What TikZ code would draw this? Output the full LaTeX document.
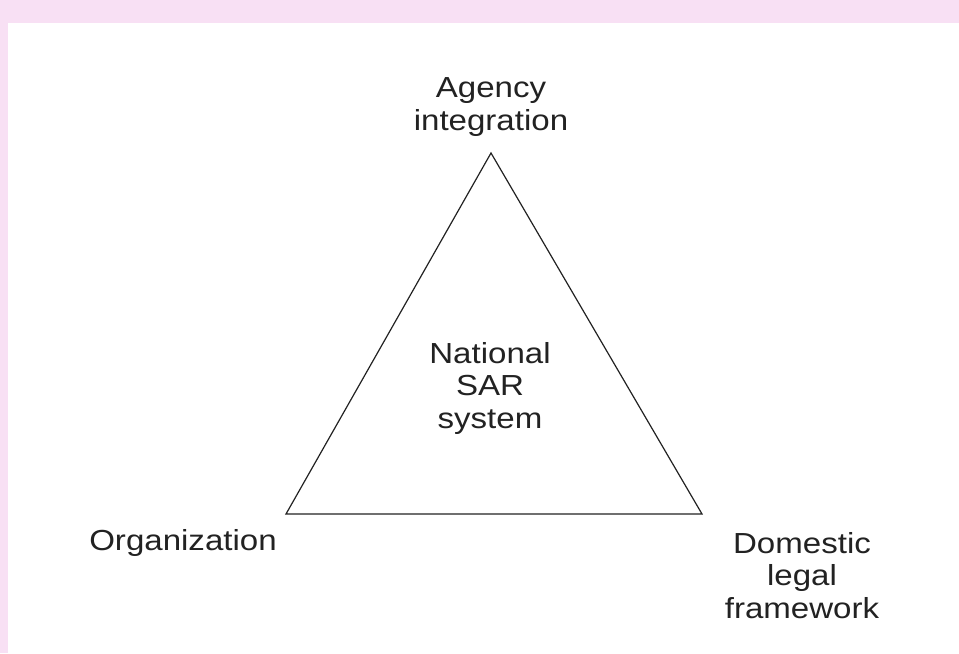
\documentclass[tikz,border=0pt]{standalone}
\usepackage{fontspec}
\setmainfont[FakeStretch=1.14]{Liberation Sans}
\definecolor{pinkbg}{RGB}{248,224,244}
\definecolor{inkgray}{RGB}{34,34,34}

\begin{document}
\begin{tikzpicture}[x=0.75pt,y=-0.75pt,
  lbl/.style={inner sep=0pt,anchor=base,align=center,text=inkgray,
    font=\fontsize{21.75}{24.3}\selectfont}]
\useasboundingbox (0,0) rectangle (959,653);
\fill[pinkbg] (0,0) rectangle (959,653);
\fill[white] (8,23) rectangle (959,653);

\coordinate (apex) at (491,153);
\coordinate (left) at (286,514);
\coordinate (right) at (702,514);
\draw[inkgray,line width=0.9pt,line join=miter] (apex) -- (right) -- (left) -- cycle;

% base anchor sits on the last line
\node[lbl] (agency) at (491,130) {Agency\\integration};
\node[lbl] (sar) at (490,428) {National\\SAR\\system};
\node[lbl] (org) at (183,550) {Organization};
\node[lbl] (legal) at (802,618) {Domestic\\legal\\framework};

\end{tikzpicture}
\end{document}
